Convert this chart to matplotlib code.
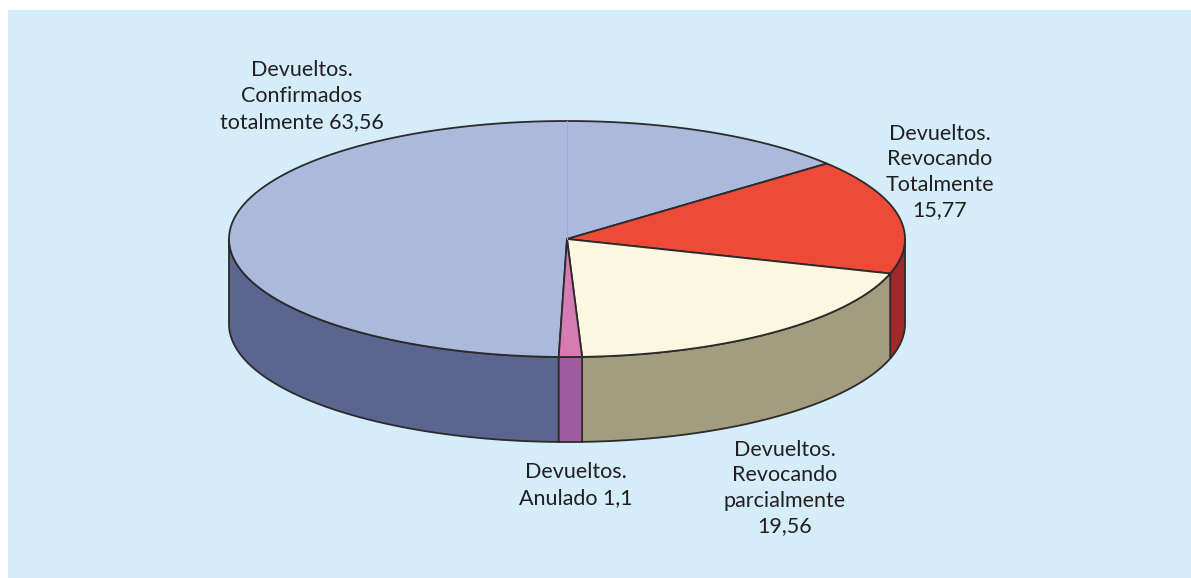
import numpy as np
import matplotlib
matplotlib.use("Agg")
import matplotlib.pyplot as plt
from matplotlib.patches import Polygon, Rectangle

# data
labels = ["Devueltos.\nConfirmados\ntotalmente 63,56",
          "Devueltos.\nRevocando\nTotalmente\n15,77",
          "Devueltos.\nRevocando\nparcialmente\n19,56",
          "Devueltos.\nAnulado 1,1"]
values = [63.56, 15.77, 19.56, 1.1]
top_colors = ["#abb9dd", "#ee4a38", "#fcf7e0", "#d67bb3"]
side_colors = ["#5a6690", "#a3282a", "#a39c7e", "#a05ca0"]
label_pos = [(302, 96), (940, 172), (785, 488), (576, 485)]

# geometry of the 3d pie (pixel coords)
W, H = 1191, 578
cx, cy = 567, 239
ra, rb = 338, 118
depth = 85
start = -91.4
edge = "#2b2b2b"

fig = plt.figure(figsize=(W / 100, H / 100), dpi=100)
ax = fig.add_axes([0, 0, 1, 1])
ax.set_xlim(0, W)
ax.set_ylim(H, 0)
ax.axis("off")
ax.add_patch(Rectangle((8, 10), W - 8, H - 10, facecolor="#d5ecf9",
                       edgecolor="none", zorder=0))


def pt(t, dy=0.0):
    t = np.radians(t)
    return cx + ra * np.cos(t), cy - rb * np.sin(t) + dy


def arc(t1, t2, dy=0.0, n=120):
    ts = np.linspace(t1, t2, n)
    xs, ys = pt(ts, dy)
    return np.column_stack([xs, ys])


total = sum(values)
bounds = [start]
for v in values:
    bounds.append(bounds[-1] - 360 * v / total)

# front walls (visible where sin(t) < 0)
for i in range(len(values)):
    hi, lo = bounds[i], bounds[i + 1]
    for k in range(-2, 3):
        f_lo, f_hi = -180 + 360 * k, 360 * k
        a, b = max(lo, f_lo), min(hi, f_hi)
        if b > a:
            top = arc(a, b)
            bot = arc(b, a, depth)
            ax.add_patch(Polygon(np.vstack([top, bot]), closed=True,
                                 facecolor=side_colors[i], edgecolor=edge,
                                 lw=1.3, zorder=2))

# top wedges
for i in range(len(values)):
    hi, lo = bounds[i], bounds[i + 1]
    pts = np.vstack([[cx, cy], arc(hi, lo)])
    ax.add_patch(Polygon(pts, closed=True, facecolor=top_colors[i],
                         edgecolor=edge, lw=1.3, zorder=3))

# faint line at 12 o'clock
ax.plot([cx, cx], [cy, cy - rb], color="#98aed0", lw=0.8, zorder=4)

for lab, (x, y) in zip(labels, label_pos):
    ax.text(x, y, lab, ha="center", va="center", multialignment="center",
            fontsize=15.5, family="Lato", color="#231f20", linespacing=1.35,
            zorder=5)

fig.savefig("out.png", dpi=100, facecolor="white")
